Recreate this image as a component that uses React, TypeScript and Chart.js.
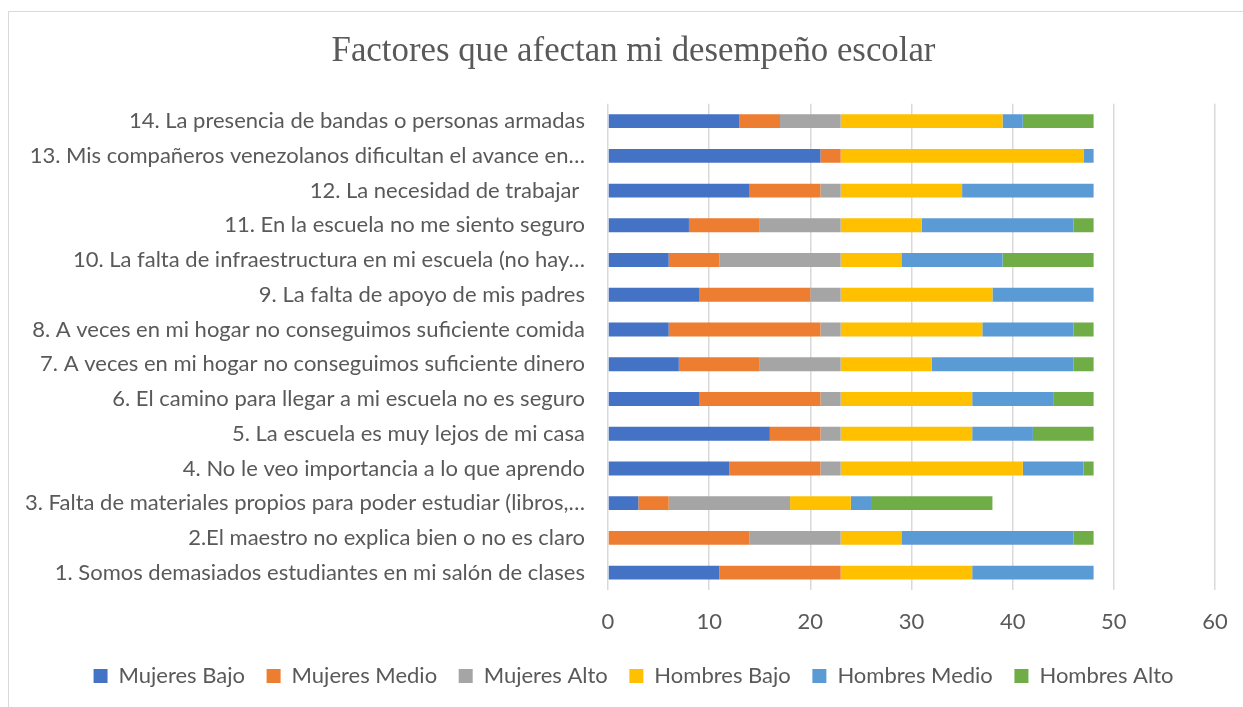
import React, { useEffect, useRef } from "react";
import { Chart, registerables } from "chart.js";

Chart.register(...registerables);

const chartTitle = "Factores que afectan mi desempeño escolar";

const categories = [
  "1. Somos demasiados estudiantes en mi salón de clases",
  "2.El maestro no explica bien o no es claro",
  "3. Falta de materiales propios para poder estudiar (libros,…",
  "4. No le veo importancia a lo que aprendo",
  "5. La escuela es muy lejos de mi casa",
  "6. El camino para llegar a mi escuela no es seguro",
  "7. A veces en mi hogar no conseguimos suficiente dinero",
  "8. A veces en mi hogar no conseguimos suficiente comida",
  "9. La falta de apoyo de mis padres",
  "10. La falta de infraestructura en mi escuela (no hay…",
  "11. En la escuela no me siento seguro",
  "12. La necesidad de trabajar ",
  "13. Mis compañeros venezolanos dificultan el avance en…",
  "14. La presencia de bandas o personas armadas",
];

const seriesNames = [
  "Mujeres Bajo",
  "Mujeres Medio",
  "Mujeres Alto",
  "Hombres Bajo",
  "Hombres Medio",
  "Hombres Alto",
];

const mujeresBajo = [11, 0, 3, 12, 16, 9, 7, 6, 9, 6, 8, 14, 21, 13];
const mujeresMedio = [12, 14, 3, 9, 5, 12, 8, 15, 11, 5, 7, 7, 2, 4];
const mujeresAlto = [0, 9, 12, 2, 2, 2, 8, 2, 3, 12, 8, 2, 0, 6];
const hombresBajo = [13, 6, 6, 18, 13, 13, 9, 14, 15, 6, 8, 12, 24, 16];
const hombresMedio = [12, 17, 2, 6, 6, 8, 14, 9, 10, 10, 15, 13, 1, 2];
const hombresAlto = [0, 2, 12, 1, 6, 4, 2, 2, 0, 9, 2, 0, 0, 7];

const seriesColors = ["#4472C4", "#ED7D31", "#A5A5A5", "#FFC000", "#5B9BD5", "#70AD47"];

const xMin = 0;
const xMax = 60;
const xStep = 10;

const TEXT_COLOR = "#595959";
const GRID_COLOR = "#d9d9d9";
const LABEL_FONT = "Lato";
const LABEL_SIZE = 22;
const CATEGORY_SIZE = 22;

export default function App() {
  const canvasRef = useRef<HTMLCanvasElement | null>(null);

  useEffect(() => {
    const canvas = canvasRef.current;
    if (!canvas) return;
    const values = [mujeresBajo, mujeresMedio, mujeresAlto, hombresBajo, hombresMedio, hombresAlto];
    const chart = new Chart(canvas, {
      type: "bar",
      data: {
        labels: categories,
        datasets: values.map((v, i) => ({
          label: seriesNames[i],
          data: v,
          backgroundColor: seriesColors[i],
          borderWidth: 0,
          categoryPercentage: 0.8,
          barPercentage: 0.5,
        })),
      },
      options: {
        indexAxis: "y",
        responsive: false,
        animation: false,
        devicePixelRatio: 1,
        layout: { padding: { left: 52, right: 28, top: 0, bottom: 10 } },
        plugins: {
          title: {
            display: true,
            text: chartTitle,
            color: TEXT_COLOR,
            font: { family: "Liberation Serif", size: 34.8, weight: "normal" },
            padding: { top: 31, bottom: 31 },
          },
          legend: {
            position: "bottom",
            labels: {
              color: TEXT_COLOR,
              font: { family: LABEL_FONT, size: LABEL_SIZE },
              boxWidth: 14,
              boxHeight: 14,
              padding: 21.6,
            },
          },
          tooltip: { enabled: false },
        },
        scales: {
          x: {
            stacked: true,
            min: xMin,
            max: xMax,
            ticks: {
              stepSize: xStep,
              color: TEXT_COLOR,
              font: { family: LABEL_FONT, size: LABEL_SIZE },
              padding: 19,
            },
            grid: { color: GRID_COLOR, lineWidth: 1.5, drawTicks: false },
            border: { display: false },
            afterFit: (s: any) => {
              s.height = 53.4;
              s.paddingLeft = 0;
              s.paddingRight = 0;
            },
          },
          y: {
            stacked: true,
            reverse: true,
            ticks: {
              color: TEXT_COLOR,
              font: { family: LABEL_FONT, size: CATEGORY_SIZE },
              padding: 23,
              autoSkip: false,
            },
            grid: { display: false, drawTicks: false },
            border: { display: false },
            afterFit: (s: any) => {
              s.width = 556;
              s.paddingTop = 0;
              s.paddingBottom = 0;
              // let long category labels extend past the axis box instead of being clipped
              s._computeLabelArea = () => undefined;
            },
          },
        },
      },
    });
    return () => chart.destroy();
  }, []);

  return (
    <div
      style={{
        position: "fixed",
        left: 0,
        top: 0,
        width: 1243,
        height: 707,
        overflow: "hidden",
        background: "#ffffff",
      }}
    >
      <canvas
        ref={canvasRef}
        width={1243}
        height={707}
        style={{ position: "absolute", left: 0, top: 0, display: "block" }}
      />
      <div
        style={{
          position: "absolute",
          left: 8,
          top: 11,
          width: 1300,
          height: 800,
          border: `1px solid ${GRID_COLOR}`,
          pointerEvents: "none",
        }}
      />
    </div>
  );
}
